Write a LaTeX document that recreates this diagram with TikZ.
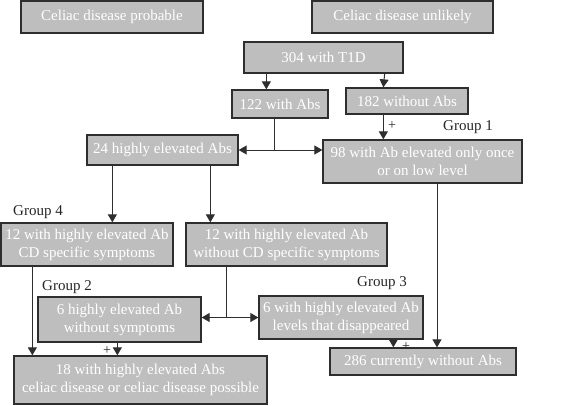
\documentclass[tikz,border=0pt]{standalone}
\usepackage{fontspec}
\setmainfont{Liberation Serif}
\usetikzlibrary{arrows.meta,calc}
\definecolor{boxfill}{HTML}{BEBEBE}
\definecolor{boxline}{HTML}{2E2E2E}
\tikzset{
  gbox/.style={draw=boxline, line width=1.3pt, fill=boxfill, text=white, inner sep=0pt,
    font=\fontsize{15}{18}\selectfont, align=center},
  arr/.style={draw=boxline, line width=1pt, -{Triangle[length=8pt,width=9pt]}},
  ln/.style={draw=boxline, line width=1pt},
  grp/.style={font=\fontsize{15}{18}\selectfont, text=black!85, inner sep=0pt},
  plus/.style={font=\fontsize{14}{16}\selectfont, text=black!85, inner sep=0pt}
}
\begin{document}
\begin{tikzpicture}[x=1pt,y=-1pt]
\useasboundingbox (0,0) rectangle (565,405);
% boxes
\node[gbox, minimum width=182pt, minimum height=32pt] (prob) at (112,17) {Celiac disease probable};
\node[gbox, minimum width=181pt, minimum height=32pt] (unl) at (402.5,17) {Celiac disease unlikely};
\node[gbox, minimum width=159pt, minimum height=31pt] (t1d) at (323.5,57.5) {304 with T1D};
\node[gbox, minimum width=96pt, minimum height=28pt] (a122) at (280,104) {122 with Abs};
\node[gbox, minimum width=122pt, minimum height=26pt] (a182) at (407,101) {182 without Abs};
\node[gbox, minimum width=151pt, minimum height=30pt] (h24) at (162.5,150) {24 highly elevated Abs};
\node[gbox, minimum width=199pt, minimum height=43pt] (g98) at (422.5,161.5) {98 with Ab elevated only once\\or on low level};
\node[gbox, minimum width=172pt, minimum height=43pt] (cd12) at (87,244.5) {12 with highly elevated Ab\\CD specific symptoms};
\node[gbox, minimum width=201pt, minimum height=43pt] (wo12) at (286.5,244.5) {12 with highly elevated Ab\\without CD specific symptoms};
\node[gbox, minimum width=163pt, minimum height=45pt] (g6) at (119.5,319.5) {6 highly elevated Ab\\without symptoms};
\node[gbox, minimum width=164pt, minimum height=43pt] (d6) at (341,317.5) {6 with highly elevated Ab\\levels that disappeared};
\node[gbox, minimum width=253pt, minimum height=48pt] (r18) at (140.5,380) {18 with highly elevated Abs\\celiac disease or celiac disease possible};
\node[gbox, minimum width=186pt, minimum height=27pt] (r286) at (423,361.5) {286 currently without Abs};
% group labels
\node[grp, anchor=west] (gr1) at (443,127) {Group 1};
\node[grp, anchor=west] (gr4) at (13,212) {Group 4};
\node[grp, anchor=west] (gr2) at (42,287) {Group 2};
\node[grp, anchor=west] (gr3) at (357,283) {Group 3};
% connectors
\draw[arr] ([xshift=23pt]t1d.south west) -- ([xshift=35pt]a122.north west);
\draw[arr] ([xshift=-19pt]t1d.south east) -- ([xshift=38pt]a182.north west);
\coordinate (j1t) at ([xshift=43pt]a122.south west);
\coordinate (j1) at (j1t |- h24.east);
\draw[ln] (j1t) -- (j1);
\draw[arr] (j1) -- (h24.east);
\draw[arr] (j1) -- (j1 -| g98.west);
\coordinate (k1) at ([xshift=38pt]a182.south west);
\draw[arr] (k1) -- (k1 |- g98.north);
\node[plus] (p1) at (392,126) {+};
\coordinate (h1) at ([xshift=26pt]h24.south west);
\coordinate (h2) at ([xshift=124pt]h24.south west);
\draw[arr] (h1) -- (h1 |- cd12.north);
\draw[arr] (h2) -- (h2 |- wo12.north);
\coordinate (g1) at ([xshift=14.5pt]g98.south);
\draw[arr] (g1) -- (g1 |- r286.north);
\coordinate (c1) at ([xshift=32pt]cd12.south west);
\draw[arr] (c1) -- (c1 |- r18.north);
\coordinate (w1t) at ([xshift=41pt]wo12.south west);
\coordinate (w1) at (w1t |- d6.west);
\draw[ln] (w1t) -- (w1);
\draw[arr] (w1) -- (w1 -| g6.east);
\draw[arr] (w1) -- (d6.west);
\coordinate (s1) at ([xshift=80pt]g6.south west);
\draw[arr] (s1) -- (s1 |- r18.north);
\node[plus] (p2) at (107,351) {+};
\coordinate (d1) at ([xshift=135pt]d6.south west);
\draw[arr] (d1) -- (d1 |- r286.north);
\node[plus] (p3) at (406,347) {+};
\end{tikzpicture}
\end{document}
